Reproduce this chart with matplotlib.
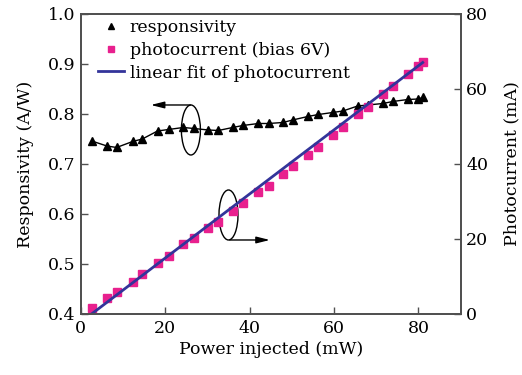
import matplotlib
matplotlib.use("Agg")
import matplotlib.pyplot as plt
from matplotlib.patches import Ellipse
import numpy as np

plt.rcParams['font.family'] = ['DejaVu Serif']
plt.rcParams['mathtext.fontset'] = 'dejavuserif'

# ---- data ----
power_mw = [2.6, 6.2, 8.5, 12.3, 14.6, 18.2, 20.8, 24.3, 26.8, 30.2, 32.6, 36.0,
            38.4, 42.1, 44.5, 47.9, 50.2, 53.8, 56.3, 59.7, 62.1, 65.6, 68.0,
            71.6, 73.9, 77.5, 80.0, 81.0]
responsivity = [0.746, 0.736, 0.733, 0.745, 0.750, 0.766, 0.769, 0.773, 0.771,
                0.768, 0.767, 0.773, 0.777, 0.781, 0.781, 0.783, 0.788, 0.795,
                0.799, 0.803, 0.806, 0.816, 0.818, 0.821, 0.825, 0.829, 0.830,
                0.833]
photocurrent = [1.5, 4.2, 5.9, 8.6, 10.7, 13.7, 15.5, 18.6, 20.3, 22.9, 24.6,
                27.5, 29.5, 32.6, 34.1, 37.3, 39.4, 42.4, 44.6, 47.7, 49.8, 53.3,
                55.3, 58.6, 60.9, 64.0, 66.2, 67.3]
fit_slope = 0.855
fit_intercept = -2.2

xticks = [0, 20, 40, 60, 80]
left_ticks = [0.4, 0.5, 0.6, 0.7, 0.8, 0.9, 1.0]
right_ticks = [0, 20, 40, 60, 80]

pink = '#E8208E'
blue = '#33349A'
spine_c = '#505050'

fig = plt.figure(figsize=(5.22, 3.75), dpi=100)
ax = fig.add_axes([0.1546, 0.1627, 0.7280, 0.8000])
ax2 = ax.twinx()

l1, = ax.plot(power_mw, responsivity, color='black', lw=1.0, marker='^',
              markersize=5.2, label='responsivity')
l2, = ax2.plot(power_mw, photocurrent, ls='none', marker='s', color=pink,
               markersize=5.4, label='photocurrent (bias 6V)')
fx = np.array([power_mw[0], power_mw[-1]])
l3, = ax2.plot(fx, fit_slope * fx + fit_intercept, color=blue, lw=2.0,
               label='linear fit of photocurrent')

ax.set_xlim(0, 90)
ax.set_ylim(0.4, 1.0)
ax2.set_ylim(0, 80)
ax.set_xticks(xticks)
ax.set_yticks(left_ticks)
ax.set_yticklabels([f'{v:.1f}' for v in left_ticks])
ax2.set_yticks(right_ticks)

for a in (ax, ax2):
    for s in a.spines.values():
        s.set_color(spine_c)
        s.set_linewidth(1.3)
ax.tick_params(direction='in', length=5, width=1.0, color=spine_c,
               labelsize=12.5, pad=4)
ax2.tick_params(direction='in', length=5, width=1.0, color=spine_c,
                labelsize=12.5, pad=4)

ax.set_xlabel('Power injected (mW)', fontsize=12.5, labelpad=3)
ax.set_ylabel('Responsivity (A/W)', fontsize=12.5, labelpad=10)
ax2.set_ylabel('Photocurrent (mA)', fontsize=12.5, labelpad=11)

# annotations: ellipses with arrows
ax.add_patch(Ellipse((26.1, 0.768), 4.5, 0.10, fill=False, ec='black', lw=1.0))
ax.annotate('', xy=(16.6, 0.818), xytext=(26.0, 0.818),
            arrowprops=dict(arrowstyle='-|>,head_length=0.8,head_width=0.2',
                            color='black', lw=1.0, shrinkA=0, shrinkB=0))
ax.add_patch(Ellipse((35.0, 0.598), 4.5, 0.10, fill=False, ec='black', lw=1.0))
ax.annotate('', xy=(44.8, 0.548), xytext=(35.3, 0.548),
            arrowprops=dict(arrowstyle='-|>,head_length=0.8,head_width=0.2',
                            color='black', lw=1.0, shrinkA=0, shrinkB=0))

leg = ax.legend(handles=[l1, l2, l3], loc='upper left', frameon=False,
                fontsize=12.5, handlelength=1.55, handletextpad=0.3,
                labelspacing=0.32, borderaxespad=0.0, markerscale=0.85,
                bbox_to_anchor=(0.026, 1.005))
leg.legend_handles[0].set_linestyle('none')

fig.savefig('out.png', dpi=100)
